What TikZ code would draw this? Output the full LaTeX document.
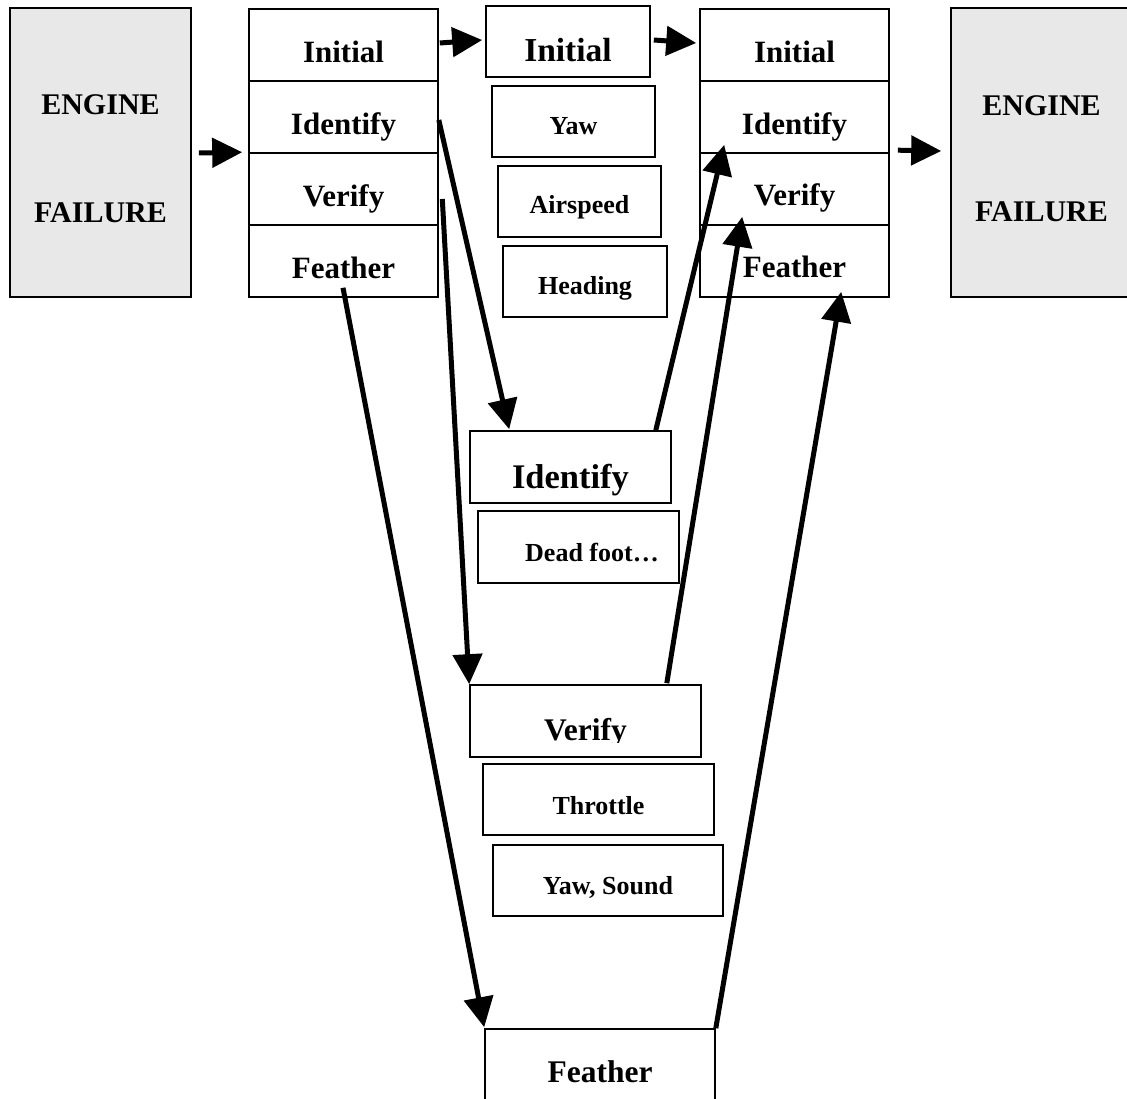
\documentclass[tikz,border=0pt]{standalone}
\usepackage{fontspec}
\setmainfont{Liberation Serif}
\usetikzlibrary{arrows.meta,calc}
\definecolor{engfill}{RGB}{232,232,232}
\newcommand\fsz[1]{\fontsize{#1pt}{#1pt}\selectfont\bfseries}
\begin{document}
\begin{tikzpicture}[x=1pt,y=1pt,
  box/.style={draw, line width=1.6pt, inner sep=0pt, rectangle},
  row/.style={box, minimum width=189pt, minimum height=72pt},
  eng/.style={box, fill=engfill, minimum width=181pt, minimum height=289pt},
  sub/.style={box, minimum height=71pt},
  txt/.style={anchor=base, inner sep=0pt},
  big/.style={txt, font=\fsz{31}},
  small/.style={txt, font=\fsz{26}},
  flow/.style={line width=5pt, -{Triangle[length=30pt,width=29pt]}},
]
\useasboundingbox (0,0) rectangle (1127,-1099);
\clip (0,0) rectangle (1127,-1099);

% engine boxes
\node[eng] (lEng) at (100.5,-152.5) {};
\node[txt, font=\fsz{30}] (tlEng1) at (100.5,-115) {ENGINE};
\node[txt, font=\fsz{30}] (tlEng2) at (100.5,-223) {FAILURE};
\node[eng] (rEng) at (1041.5,-152.5) {};
\node[txt, font=\fsz{30}] (trEng1) at (1041.5,-116) {ENGINE};
\node[txt, font=\fsz{30}] (trEng2) at (1041.5,-222) {FAILURE};

% left stack
\node[row] (lIn) at (343.5,-45) {};
\node[row] (lId) at (343.5,-117) {};
\node[row] (lVe) at (343.5,-189) {};
\node[row] (lFe) at (343.5,-261) {};
\node[big] (tlIn) at (343.5,-63) {Initial};
\node[big] (tlId) at (343.5,-135) {Identify};
\node[big] (tlVe) at (343.5,-207) {Verify};
\node[big] (tlFe) at (343.5,-279) {Feather};

% right stack
\node[row] (rIn) at (794.5,-45) {};
\node[row] (rId) at (794.5,-117) {};
\node[row] (rVe) at (794.5,-189) {};
\node[row] (rFe) at (794.5,-261) {};
\node[big] (trIn) at (794.5,-63) {Initial};
\node[big] (trId) at (794.5,-135) {Identify};
\node[big] (trVe) at (794.5,-206) {Verify};
\node[big] (trFe) at (794.5,-278) {Feather};

% middle: initial
\node[sub, minimum width=164pt] (mIn) at (568,-41.5) {};
\node[txt, font=\fsz{33.5}] (tmIn) at (568,-62) {Initial};
\node[sub, minimum width=163pt] (mYaw) at (573.5,-121.5) {};
\node[small] (tmYaw) at (573.5,-135) {Yaw};
\node[sub, minimum width=163pt] (mAir) at (579.5,-201.5) {};
\node[small] (tmAir) at (579.5,-214) {Airspeed};
\node[sub, minimum width=164pt] (mHead) at (585,-281.5) {};
\node[small] (tmHead) at (585,-295) {Heading};

% middle: identify
\node[box, minimum width=201pt, minimum height=72pt] (mId) at (570.5,-467) {};
\node[txt, font=\fsz{34.5}] (tmId) at (570.5,-488) {Identify};
\node[box, minimum width=201pt, minimum height=72pt] (mDead) at (578.5,-547) {};
\node[small] (tmDead) at (592,-561) {Dead foot…};

% middle: verify
\node[box, minimum width=231pt, minimum height=72pt] (mVe) at (585.5,-721) {};
\begin{scope}
\clip (470,-685) rectangle (701,-742);
\node[txt, font=\fsz{31.5}] (tmVe) at (585.5,-740) {Verify};
\end{scope}
\node[sub, minimum width=231pt] (mThr) at (598.5,-799.5) {};
\node[small] (tmThr) at (598.5,-814) {Throttle};
\node[sub, minimum width=230pt] (mYS) at (608,-880.5) {};
\node[small] (tmYS) at (608,-894) {Yaw, Sound};

% bottom: feather
\node[box, minimum width=230pt, minimum height=81pt] (mFe) at (600,-1069.5) {};
\node[txt, font=\fsz{31.5}] (tmFe) at (600,-1082) {Feather};

% short arrows
\draw[flow] ($(lEng.east)+(7,-0.5)$) -- ($(lVe.north west)+(-6,0)$);
\draw[flow] ($(lIn.east)+(1,2)$) -- ($(mIn.west)+(-3,1.5)$);
\draw[flow] ($(mIn.east)+(3,1.5)$) -- ($(rIn.west)+(-3,2)$);
\draw[flow] ($(rVe.north east)+(8,2)$) -- ($(rEng.west)+(-9,1.5)$);

% long arrows
\draw[flow] ($(lId.east)+(0,-3)$) -- ($(mId.north west)+(40,1)$);
\draw[flow] ($(lVe.east)+(3.5,-10)$) -- ($(mVe.north west)+(0,0)$);
\draw[flow] ($(lFe.south)+(-0.5,10)$) -- ($(mFe.north west)+(0,1)$);
\draw[flow] ($(mId.north east)+(-16,0)$) -- ($(rId.south west)+(25,9)$);
\draw[flow] ($(mVe.north east)+(-35,1)$) -- ($(rVe.south west)+(43,9)$);
\draw[flow] ($(mFe.north east)+(0,0)$) -- ($(rFe.south west)+(142,6)$);
\end{tikzpicture}
\end{document}
